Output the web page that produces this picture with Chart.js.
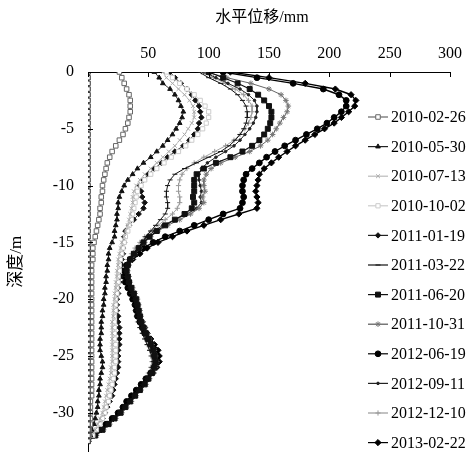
<!DOCTYPE html>
<html lang="zh">
<head>
<meta charset="UTF-8" />
<title>测斜曲线</title>
<script src="https://cdn.jsdelivr.net/npm/chart.js"></script>
<style>
  html, body { margin: 0; background: #fff; overflow: hidden; }
  /* canvas is a bit taller than the window so the plot reaches the bottom edge */
  #wrap { width: 471px; height: 475px; }
</style>
</head>
<body>
<div id="wrap"><canvas id="incl"></canvas></div>
<script>
// depth below ground (m), one reading every 0.5 m
const depth = [0,0.5,1,1.5,2,2.5,3,3.5,4,4.5,
  5,5.5,6,6.5,7,7.5,8,8.5,9,9.5,
  10,10.5,11,11.5,12,12.5,13,13.5,14,14.5,
  15,15.5,16,16.5,17,17.5,18,18.5,19,19.5,
  20,20.5,21,21.5,22,22.5,23,23.5,24,24.5,
  25,25.5,26,26.5,27,27.5,28,28.5,29,29.5,
  30,30.5,31,31.5,32,32.5];

// zero reading drawn along the axis
const initial = [0,0,0,0,0,0,0,0,0,0, 0,0,0,0,0,0,0,0,0,0,
  0,0,0,0,0,0,0,0,0,0, 0,0,0,0,0,0,0,0,0,0,
  0,0,0,0,0,0,0,0,0,0, 0,0,0,0,0,0,0,0,0,0, 0,0,0,0,0,0];

// horizontal displacement (mm)
const s100226 = [26,28,30,32,34,35,35,35,34,33, 31,29,26,23,20,18,16,15,14,13,
  12,12,11,11,10,10,9,8,7,6, 5,4,4,4,3,3,3,3,3,3,
  3,3,3,3,3,3,3,3,3,3, 3,3,3,3,3,3,3,3,2,2, 2,2,2,1,1,0];
const s100530 = [55,59,62,68,72,75,77,79,78,76, 73,70,66,62,57,52,46,41,37,33,
  30,28,26,25,25,24,24,23,22,22, 20,18,17,17,16,16,15,15,14,14,
  13,13,12,12,11,11,11,10,10,10, 11,12,12,11,10,10,9,9,8,8, 7,6,5,3,2,0];
const s100713 = [62,65,70,75,80,84,87,88,88,86, 83,80,76,72,67,62,57,52,47,43,
  40,38,37,37,36,35,34,33,31,30, 28,27,26,25,25,24,24,23,23,22,
  22,21,21,21,20,20,20,20,20,20, 20,20,19,19,18,17,16,15,14,13, 12,10,8,6,3,0];
const s101002 = [65,70,76,82,88,93,97,100,100,98, 95,91,86,81,75,69,63,57,52,47,
  44,41,40,39,38,37,36,34,33,31, 30,29,28,27,26,26,25,25,24,24,
  23,23,23,22,22,22,22,22,23,23, 23,23,22,22,21,20,19,18,17,15, 14,12,10,7,4,0];
const s110119 = [68,72,77,82,86,89,92,93,94,92, 91,88,84,79,72,66,61,55,50,46,
  43,44,45,47,46,42,38,34,31,30, 30,29,29,28,28,27,27,26,25,25,
  24,24,24,25,25,26,26,26,26,25, 25,25,25,24,23,22,21,20,18,16, 14,12,10,8,4,0];
const s110322 = [92,100,110,118,124,128,131,132,132,131, 129,126,122,117,110,100,90,80,72,68,
  66,65,65,66,66,64,60,56,52,48, 45,42,38,35,33,32,32,33,34,36,
  38,39,40,41,42,43,45,47,49,51, 53,54,53,51,48,45,41,38,34,30, 26,22,17,12,6,0];
const s110620 = [100,112,124,134,141,146,150,152,152,151, 149,146,142,136,128,118,106,96,90,88,
  88,88,87,88,86,80,72,64,57,51, 46,42,38,35,33,32,33,34,36,38,
  40,41,42,43,44,46,48,50,52,54, 55,56,55,53,50,47,43,39,35,31, 27,22,17,12,6,0];
const s111031 = [98,115,135,150,160,164,166,165,162,159, 156,153,149,143,134,122,110,102,98,96,
  96,97,95,96,92,85,76,66,58,52, 47,43,39,36,34,33,34,35,37,39,
  41,42,43,44,45,47,49,51,53,55, 56,57,56,54,51,48,44,40,36,32, 28,23,18,13,7,0];
const s120619 = [112,140,170,195,208,214,214,210,204,198, 190,181,172,163,155,148,142,136,131,129,
  128,128,129,128,126,112,100,88,76,64, 54,46,40,35,32,30,30,31,33,35,
  37,39,40,41,43,45,47,50,53,56, 57,57,55,52,48,44,40,36,32,29, 25,20,15,9,3,0];
const s120911 = [96,106,116,126,133,138,140,140,139,137, 134,130,126,121,114,106,99,94,92,92,
  93,94,93,94,90,82,72,62,55,49, 45,41,37,34,32,31,32,33,35,37,
  39,40,41,42,43,45,47,49,51,53, 54,55,54,52,49,46,42,38,34,30, 26,21,16,11,5,0];
const s121210 = [94,104,114,122,129,133,136,136,135,133, 130,126,121,114,105,96,88,82,78,76,
  75,75,76,76,74,70,64,58,52,47, 43,39,36,33,31,30,31,32,33,35,
  37,38,39,40,41,43,45,47,49,51, 52,53,52,50,47,44,40,36,32,28, 24,20,15,10,5,0];
const s130222 = [118,150,180,205,218,222,221,216,210,204, 196,188,180,172,165,158,152,146,142,141,
  140,139,140,141,140,125,110,96,82,70, 58,49,43,37,33,31,31,32,34,37,
  39,41,42,43,45,47,49,52,55,58, 59,59,57,54,50,46,42,38,34,30, 26,21,16,11,5,0];

const dates = ['2010-02-26','2010-05-30','2010-07-13','2010-10-02','2011-01-19','2011-03-22',
  '2011-06-20','2011-10-31','2012-06-19','2012-09-11','2012-12-10','2013-02-22'];
const values = [s100226, s100530, s100713, s101002, s110119, s110322,
  s110620, s111031, s120619, s120911, s121210, s130222];

// marker look per series
const looks = [
  { style: 'rect',     edge: '#666', fill: '#fff', r: 3.2, line: '#666', w: 0.9 },
  { style: 'triangle', edge: '#111', fill: '#111', r: 2.7, line: '#222', w: 0.9 },
  { style: 'crossRot', edge: '#aaa', fill: '#aaa', r: 2.7, line: '#bbb', w: 0.9 },
  { style: 'rect',     edge: '#ccc', fill: '#fff', r: 3.0, line: '#ccc', w: 0.9 },
  { style: 'rectRot',  edge: '#111', fill: '#111', r: 2.7, line: '#222', w: 0.9 },
  { style: 'line',     edge: '#111', fill: '#111', r: 2.5, line: '#111', w: 1 },
  { style: 'rect',     edge: '#111', fill: '#111', r: 3.5, line: '#111', w: 1.1 },
  { style: 'star',     edge: '#777', fill: '#777', r: 2.8, line: '#555', w: 0.9 },
  { style: 'circle',   edge: '#000', fill: '#000', r: 2.9, line: '#000', w: 1.4 },
  { style: 'circle',   edge: '#222', fill: '#222', r: 1.3, line: '#222', w: 1 },
  { style: 'cross',    edge: '#999', fill: '#999', r: 2.6, line: '#999', w: 0.9 },
  { style: 'rectRot',  edge: '#000', fill: '#000', r: 3.1, line: '#000', w: 1.4 }
];

const serif = '"Liberation Serif", "Noto Sans CJK SC", serif';

function toPoints(arr) {
  return depth.map((d, i) => ({ x: arr[i], y: -d }));
}

const datasets = [{
  label: '',
  data: toPoints(initial),
  showLine: true,
  borderColor: '#333', borderWidth: 1,
  pointStyle: 'rect', pointRadius: 3.2, pointBorderWidth: 1,
  pointBorderColor: '#333', pointBackgroundColor: '#fff'
}];
dates.forEach((name, i) => {
  const lk = looks[i];
  datasets.push({
    label: name,
    data: toPoints(values[i]),
    showLine: true,
    borderColor: lk.line, borderWidth: lk.w,
    pointStyle: lk.style, pointRadius: lk.r, pointBorderWidth: 1,
    pointBorderColor: lk.edge, pointBackgroundColor: lk.fill
  });
});

// legend drawn at the right, line + marker + date
const sideLegend = {
  id: 'sideLegend',
  afterDraw(chart) {
    const ctx = chart.ctx;
    ctx.save();
    dates.forEach((name, i) => {
      const ds = chart.data.datasets[i + 1];
      const y = 117 + i * 29.6;
      ctx.strokeStyle = ds.borderColor;
      ctx.lineWidth = 1.2;
      ctx.beginPath();
      ctx.moveTo(368, y);
      ctx.lineTo(388, y);
      ctx.stroke();
      ctx.fillStyle = ds.pointBackgroundColor;
      ctx.strokeStyle = ds.pointBorderColor;
      ctx.lineWidth = 1;
      Chart.helpers.drawPoint(ctx, {
        pointStyle: ds.pointStyle, radius: ds.pointRadius, borderWidth: 1, rotation: 0
      }, 378, y);
      ctx.fillStyle = '#000';
      ctx.font = '16px ' + serif;
      ctx.textAlign = 'left';
      ctx.textBaseline = 'middle';
      ctx.fillText(name, 391, y + 1);
    });
    // x axis title
    ctx.font = '16px ' + serif;
    ctx.textAlign = 'center';
    ctx.fillText('水平位移/mm', 262, 18);
    ctx.restore();
  }
};

// short tick marks pointing into the plot
const innerTicks = {
  id: 'innerTicks',
  afterDatasetsDraw(chart) {
    const { ctx, chartArea, scales } = chart;
    ctx.save();
    ctx.strokeStyle = '#000';
    ctx.lineWidth = 1;
    scales.x.ticks.forEach(t => {
      const px = Math.round(scales.x.getPixelForValue(t.value)) + 0.5;
      ctx.beginPath();
      ctx.moveTo(px, chartArea.top);
      ctx.lineTo(px, chartArea.top + 5);
      ctx.stroke();
    });
    scales.y.ticks.forEach(t => {
      const py = Math.round(scales.y.getPixelForValue(t.value)) + 0.5;
      ctx.beginPath();
      ctx.moveTo(chartArea.left, py);
      ctx.lineTo(chartArea.left + 5, py);
      ctx.stroke();
    });
    ctx.restore();
  }
};

new Chart(document.getElementById('incl'), {
  type: 'scatter',
  data: { datasets },
  plugins: [sideLegend, innerTicks],
  options: {
    responsive: true,
    maintainAspectRatio: false,
    animation: false,
    layout: { padding: { left: 0, top: 0, right: 10, bottom: 4 } },
    plugins: { legend: { display: false }, tooltip: { enabled: false } },
    scales: {
      x: {
        type: 'linear', position: 'top', min: 0, max: 300,
        afterFit: s => { s.height = 72; },
        grid: { display: false, drawTicks: false },
        border: { display: true, color: '#000', width: 1 },
        ticks: {
          stepSize: 50, padding: 9, color: '#000',
          font: { family: serif, size: 16 },
          callback: v => (v === 0 ? '' : v)
        }
      },
      y: {
        type: 'linear', min: -33.4, max: 0,
        afterFit: s => { s.width = 88; },
        afterBuildTicks: s => { s.ticks = s.ticks.filter(t => t.value % 5 === 0); },
        grid: { display: false, drawTicks: false },
        border: { display: true, color: '#000', width: 1 },
        ticks: {
          stepSize: 5, padding: 14, color: '#000',
          font: { family: serif, size: 16 }
        },
        title: {
          display: true, text: '深度/m', color: '#000',
          font: { family: serif, size: 17 },
          padding: { top: 6, bottom: 0 }
        }
      }
    }
  }
});
</script>
</body>
</html>
